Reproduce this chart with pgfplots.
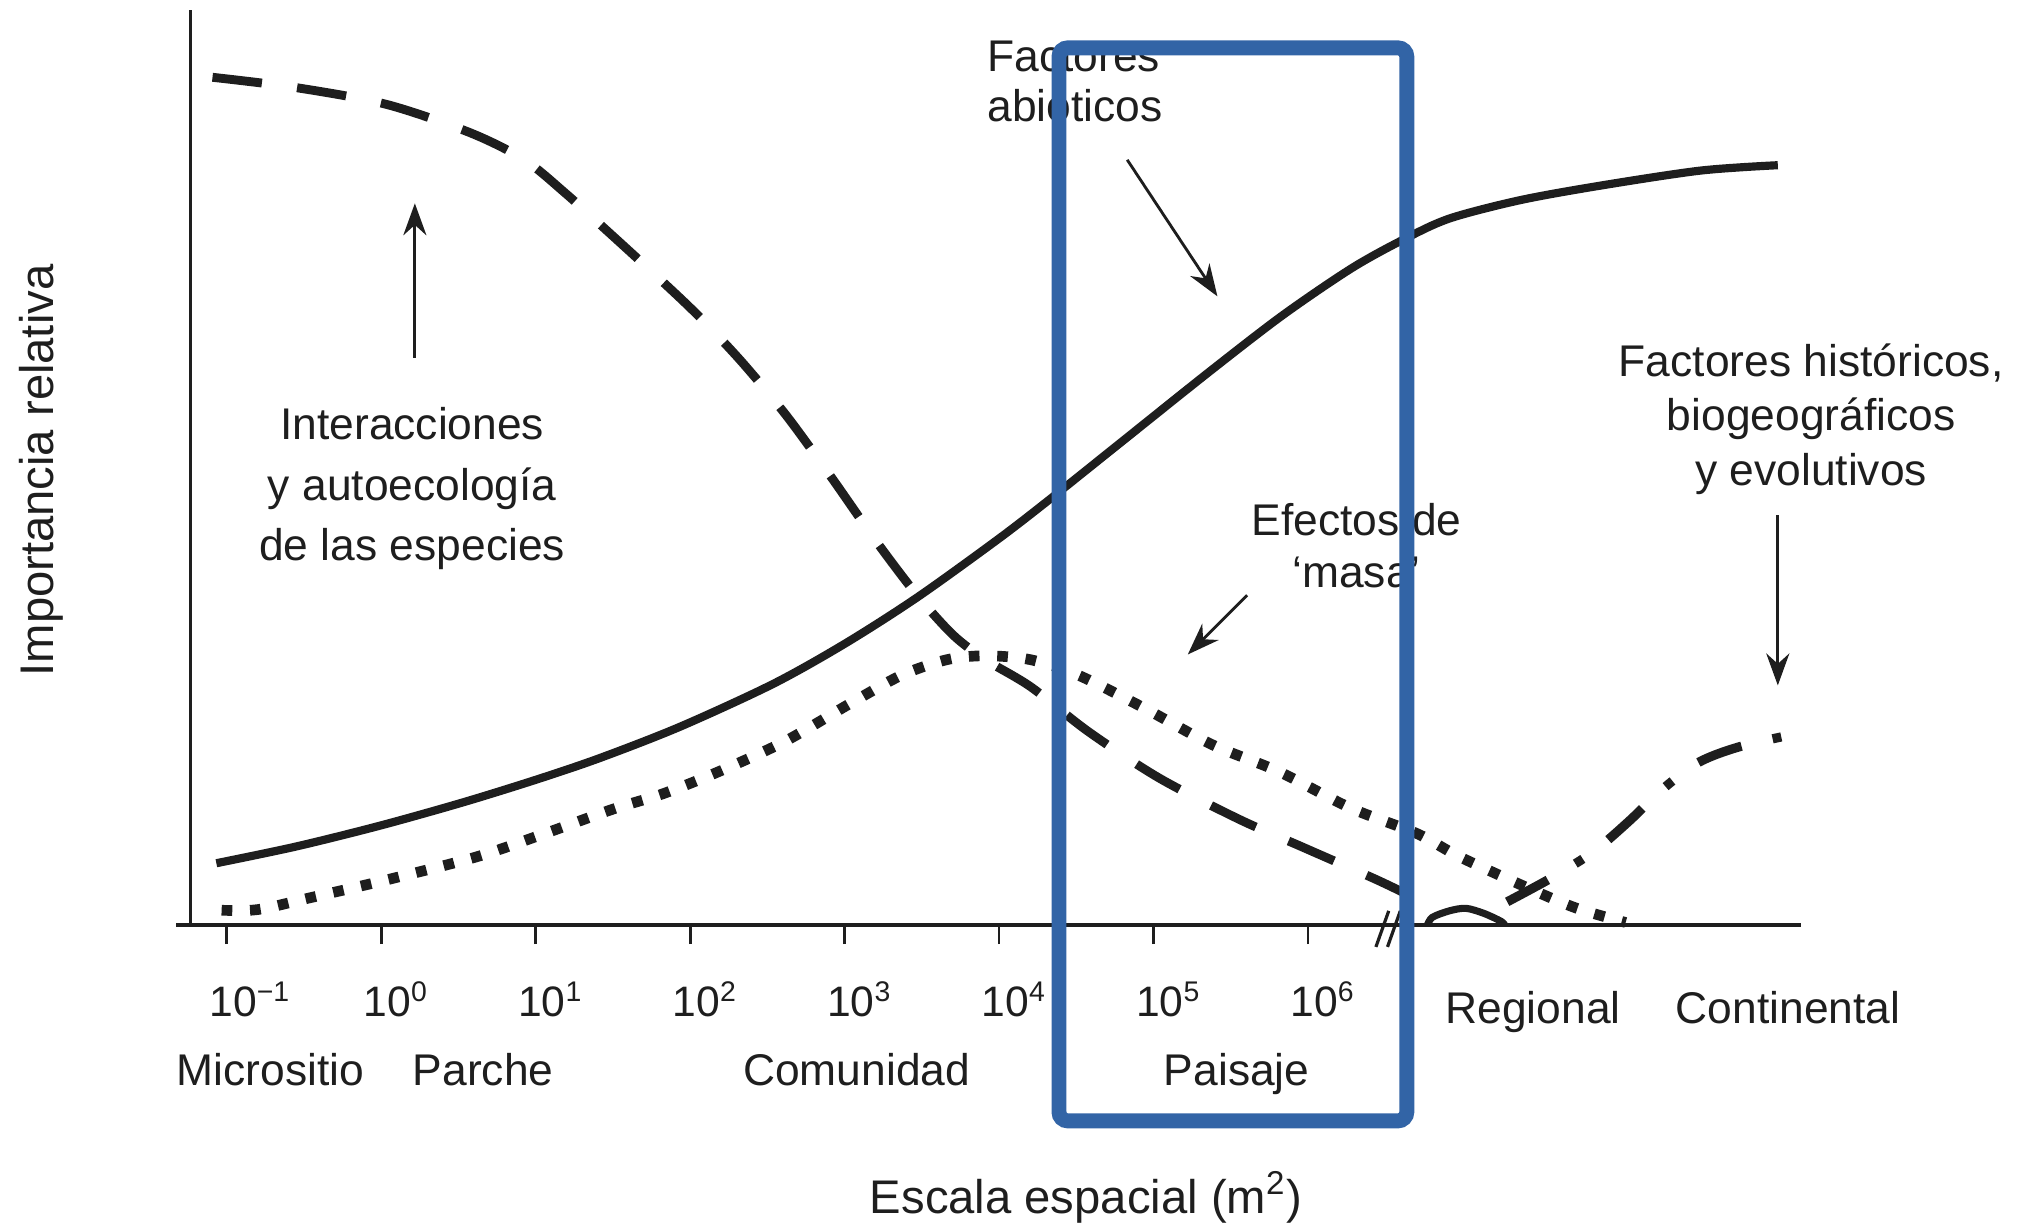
\documentclass[border=0pt]{standalone}
\usepackage{pgfplots}
\pgfplotsset{compat=1.18}
\usepackage{fontspec}
\setmainfont{Liberation Sans}
\usetikzlibrary{arrows.meta}
\definecolor{boxblue}{RGB}{50,100,166}
\definecolor{ink}{RGB}{30,30,30}

\begin{document}
\begin{tikzpicture}[
    txt/.style={font=\fontsize{12.5}{15}\selectfont, text=ink, inner sep=0pt},
    arr/.style={line width=0.8pt, ink, -{Stealth[length=9pt,width=6.5pt]}}
]
\begin{axis}[
    scale only axis,
    width=453.6pt, height=257.66pt,
    xmin=-1.2335, xmax=9.192,
    ymin=0, ymax=100,
    enlargelimits=false,
    clip=false,
    axis lines*=left,
    axis line style={-, line width=0.9pt, ink},
    x axis line style={shorten <=-4pt},
    xtick={-1,0,1,2,3,4,5,6},
    xticklabel=\empty,
    ytick=\empty,
    tick align=outside,
    major tick length=5.4pt,
    tick style={line width=0.8pt, ink},
]
% factores abioticos (continuous)
\addplot[line width=2.3pt, ink, smooth] coordinates {
(-1.067,6.76) (-0.550,8.59) (-0.007,10.87) (0.535,13.44) (1.010,15.93)
(1.419,18.28) (1.936,21.69) (2.536,26.35) (3.003,30.77) (3.470,35.82)
(3.996,42.21) (4.329,46.55) (4.788,52.75) (5.372,60.63) (5.839,66.70)
(6.289,71.87) (6.640,75.13) (6.923,77.28) (7.374,79.25) (7.891,80.83)
(8.541,82.48) (9.042,83.07)};

% interacciones y autoecologia (dashed)
\addplot[line width=2.5pt, ink, smooth, dash pattern=on 14pt off 10pt] coordinates {
(-1.092,92.68) (-0.550,91.55) (0.034,89.72) (0.576,86.62) (0.927,83.66)
(1.193,80.00) (1.452,76.06) (1.744,71.55) (2.036,66.90) (2.328,61.69)
(2.620,55.77) (2.912,49.01) (3.204,41.97) (3.470,36.06) (3.704,31.69)
(3.912,29.01) (4.204,26.06) (4.580,21.13) (5.038,16.06) (5.556,11.55)
(5.956,8.59) (6.448,4.93) (6.723,2.68)};

% small bump after the break
\addplot[line width=2pt, ink, smooth] coordinates {
(6.773,0) (6.806,0.85) (6.915,1.55) (7.023,1.83) (7.140,1.27) (7.249,0.42) (7.274,0)};

% efectos de masa (dotted)
\addplot[line width=3pt, ink, smooth, dash pattern=on 3pt off 5pt] coordinates {
(-1.033,1.62) (-0.800,1.69) (-0.466,2.96) (0.034,4.93) (0.618,7.46)
(1.035,9.86) (1.502,12.68) (1.827,14.37) (2.203,16.90) (2.620,20.14)
(3.037,24.23) (3.370,27.32) (3.662,29.01) (3.912,29.44) (4.204,29.01)
(4.513,27.32) (4.947,23.66) (5.380,19.72) (5.814,16.76) (6.273,12.82)
(6.706,10.00) (6.982,7.46) (7.440,3.94) (7.741,1.83) (8.057,0.28)};

% factores historicos (dash-dot)
\addplot[line width=2.6pt, ink, smooth, dash pattern=on 13pt off 9pt on 2.5pt off 9pt] coordinates {
(7.290,2.54) (7.582,5.21) (7.849,8.03) (8.082,11.41) (8.291,14.79)
(8.525,17.75) (8.783,19.44) (9.142,20.85)};

% axis break
\draw[line width=0.9pt, ink] (axis cs:6.440,-2.39) -- (axis cs:6.523,1.55);
\draw[line width=0.9pt, ink] (axis cs:6.515,-2.39) -- (axis cs:6.598,1.55);

% tick labels
\node[txt, font=\fontsize{12}{14}\selectfont, anchor=base west] at (axis cs:-1.117,-10.0) {10\textsuperscript{−1}};
\node[txt, font=\fontsize{12}{14}\selectfont, anchor=base west] at (axis cs:-0.117,-10.0) {10\textsuperscript{0}};
\node[txt, font=\fontsize{12}{14}\selectfont, anchor=base west] at (axis cs:0.883,-10.0) {10\textsuperscript{1}};
\node[txt, font=\fontsize{12}{14}\selectfont, anchor=base west] at (axis cs:1.883,-10.0) {10\textsuperscript{2}};
\node[txt, font=\fontsize{12}{14}\selectfont, anchor=base west] at (axis cs:2.883,-10.0) {10\textsuperscript{3}};
\node[txt, font=\fontsize{12}{14}\selectfont, anchor=base west] at (axis cs:3.883,-10.0) {10\textsuperscript{4}};
\node[txt, font=\fontsize{12}{14}\selectfont, anchor=base west] at (axis cs:4.883,-10.0) {10\textsuperscript{5}};
\node[txt, font=\fontsize{12}{14}\selectfont, anchor=base west] at (axis cs:5.883,-10.0) {10\textsuperscript{6}};
\node[txt, anchor=base] at (axis cs:7.457,-10.8) {Regional};
\node[txt, anchor=base] at (axis cs:9.109,-10.8) {Continental};

% scale names
\node[txt, anchor=base] at (axis cs:-0.716,-17.5) {Micrositio};
\node[txt, anchor=base] at (axis cs:0.660,-17.5) {Parche};
\node[txt, anchor=base] at (axis cs:3.078,-17.5) {Comunidad};
\node[txt, anchor=base] at (axis cs:5.539,-17.5) {Paisaje};

% axis titles
\node[txt, font=\fontsize{13.3}{16}\selectfont, anchor=base] at (axis cs:4.563,-31.5) {Escala espacial (m\textsuperscript{2})};
\node[txt, font=\fontsize{13.3}{16}\selectfont, rotate=90] at (axis cs:-2.201,49.7) {Importancia relativa};

% annotations
\node[txt, align=center, font=\fontsize{12.5}{17}\selectfont] at (axis cs:0.201,47.7) {Interacciones\\y autoecología\\de las especies};
\draw[arr] (axis cs:0.218,62.0) -- (axis cs:0.218,78.9);

\node[txt, align=left, anchor=west, font=\fontsize{12.5}{14}\selectfont] at (axis cs:3.921,92.25) {Factores\\abióticos};
\draw[arr] (axis cs:4.830,83.66) -- (axis cs:5.414,68.73);

\node[txt, align=center, font=\fontsize{12.5}{14.5}\selectfont] at (axis cs:6.315,41.5) {Efectos de\\‘masa’};
\draw[arr] (axis cs:5.606,36.06) -- (axis cs:5.222,29.58);

\node[txt, align=center, font=\fontsize{12.5}{15.4}\selectfont] at (axis cs:9.258,55.3) {Factores históricos,\\biogeográficos\\y evolutivos};
\draw[arr] (axis cs:9.042,44.8) -- (axis cs:9.042,26.2);

% highlight box
\draw[boxblue, line width=4.2pt, rounded corners=2.5pt] (axis cs:4.388,95.9) rectangle (axis cs:6.640,-21.41);

\coordinate (bbll) at (axis cs:-2.4679,-32.54);
\coordinate (bbur) at (axis cs:10.610,101.13);
\end{axis}
\pgfresetboundingbox
\path (bbll) rectangle (bbur);
\end{tikzpicture}
\end{document}
